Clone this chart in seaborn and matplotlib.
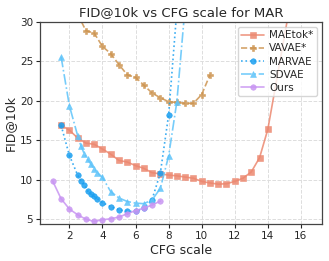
import matplotlib
matplotlib.use("Agg")
import matplotlib.pyplot as plt
import seaborn as sns
import pandas as pd

maetok_x = [1.5, 2.0, 2.5, 3.0, 3.5, 4.0, 4.5, 5.0, 5.5, 6.0, 6.5, 7.0, 7.5, 8.0, 8.5, 9.0, 9.5,
            10.0, 10.5, 11.0, 11.5, 12.0, 12.5, 13.0, 13.5, 14.0, 16.5]
maetok_y = [16.9, 16.3, 15.3, 14.65, 14.5, 13.9, 13.25, 12.45, 12.25, 11.8, 11.45, 10.9, 10.75, 10.6,
            10.5, 10.35, 10.2, 9.8, 9.6, 9.45, 9.5, 9.8, 10.2, 11.0, 12.8, 16.4, 45.8]

vavae_x = [2.5, 3.0, 3.5, 4.0, 4.5, 5.0, 5.5, 6.0, 6.5, 7.0, 7.5, 8.0, 8.5, 9.0, 9.5, 10.0, 10.5]
vavae_y = [31.0, 28.9, 28.6, 26.9, 26.0, 24.6, 23.3, 23.0, 22.0, 21.0, 20.4, 19.9, 19.8, 19.7, 19.7, 20.8, 23.3]

marvae_x = [1.5, 2.0, 2.5, 2.7, 2.9, 3.1, 3.3, 3.5, 3.7, 4.0, 4.5, 5.0, 5.5, 6.0, 6.5, 7.0, 7.5, 8.0, 8.5]
marvae_y = [16.9, 13.1, 10.6, 9.9, 9.4, 8.6, 8.2, 7.9, 7.6, 7.1, 6.6, 6.2, 6.0, 6.0, 6.4, 7.5, 10.85, 18.2, 31.5]

sdvae_x = [1.5, 2.0, 2.5, 2.7, 2.9, 3.1, 3.3, 3.5, 3.7, 4.0, 4.5, 5.0, 5.5, 6.0, 6.5, 7.0, 7.5, 8.0, 8.5, 9.0]
sdvae_y = [25.6, 19.4, 15.6, 14.3, 13.3, 12.6, 12.0, 11.4, 10.9, 10.3, 8.5, 7.7, 7.25, 7.05, 6.97, 7.45, 8.9, 13.0, 19.9, 32.0]

ours_x = [1.0, 1.5, 2.0, 2.5, 3.0, 3.5, 4.0, 4.5, 5.0, 5.5, 6.0, 6.5, 7.0, 7.5]
ours_y = [9.8, 7.6, 6.3, 5.57, 5.0, 4.72, 4.94, 5.06, 5.28, 5.7, 6.1, 6.4, 6.8, 7.3]

series = [
    ("MAEtok*", maetok_x, maetok_y, "#EC8870", "s", "-"),
    ("VAVAE*", vavae_x, vavae_y, "#CD9450", "P", "--"),
    ("MARVAE", marvae_x, marvae_y, "#1A9FF0", "o", ":"),
    ("SDVAE", sdvae_x, sdvae_y, "#5EC4FA", "^", "-."),
    ("Ours", ours_x, ours_y, "#C895F2", "o", "-"),
]

sns.set_style("ticks")
plt.rcParams['font.family'] = ['DejaVu Sans']

fig = plt.figure(figsize=(3.29, 2.61), dpi=100)
ax = fig.add_axes([0.1216, 0.1418, 0.8571, 0.7739])

for name, xs, ys, col, mk, ls in series:
    df = pd.DataFrame({"x": xs, "y": ys})
    sns.lineplot(data=df, x="x", y="y", ax=ax, color=col, marker=mk, linestyle=ls,
                 markersize=4.0, markeredgewidth=0.4, markeredgecolor=col, linewidth=1.2,
                 label=name, alpha=0.85)

ax.set_ylim(4.4, 30)
ax.set_xticks([2, 4, 6, 8, 10, 12, 14, 16])
ax.set_yticks([5, 10, 15, 20, 25, 30])
ax.grid(True, linestyle="--", color="#dddddd", linewidth=0.7)
ax.set_title("FID@10k vs CFG scale for MAR", fontsize=9.5, pad=4)
ax.set_xlabel("CFG scale", fontsize=9, labelpad=2)
ax.set_ylabel("FID@10k", fontsize=9, labelpad=2)
ax.tick_params(labelsize=7.5, length=3, width=0.8, pad=2)
for s in ax.spines.values():
    s.set_color("#444444")
    s.set_linewidth(0.9)
leg = ax.legend(loc="upper right", fontsize=7.5, frameon=True, handlelength=2.2,
                borderpad=0.3, labelspacing=0.3, handletextpad=0.5)
leg.get_frame().set_edgecolor("#cccccc")

fig.savefig("out.png", dpi=100)
